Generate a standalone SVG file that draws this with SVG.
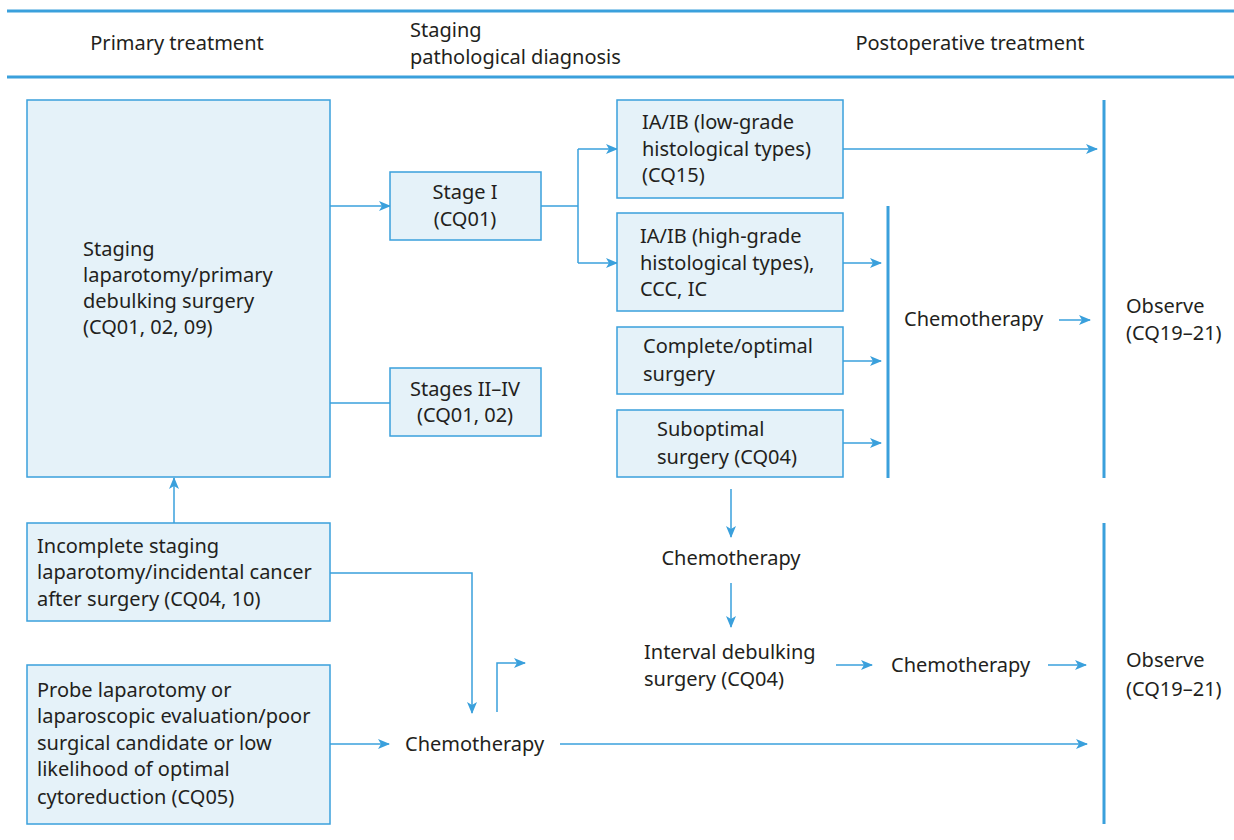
<svg xmlns="http://www.w3.org/2000/svg" width="1234" height="840" viewBox="0 0 1234 840">
<style>
.t{font-family:"Noto Sans","Liberation Sans",sans-serif;font-size:20px;fill:#231f20}
.c{text-anchor:middle}
.box{fill:#e5f2f9;stroke:#3aa0dc;stroke-width:1.5}
.ln{fill:none;stroke:#3aa0dc;stroke-width:1.5}
.ar{fill:none;stroke:#3aa0dc;stroke-width:1.5;marker-end:url(#ah)}
.bar{stroke:#3aa0dc;stroke-width:3}
</style>
<defs>
<marker id="ah" viewBox="0 0 12 10" refX="11" refY="5" markerWidth="12" markerHeight="10" markerUnits="userSpaceOnUse" orient="auto">
<path d="M0,0 L12,5 L0,10 L3,5 z" fill="#3aa0dc"/>
</marker>
</defs>
<rect width="1234" height="840" fill="#ffffff"/>
<g id="header">
<line class="bar" x1="7" y1="11" x2="1234" y2="11"/>
<line class="bar" x1="7" y1="77" x2="1234" y2="77"/>
<text class="t c" x="177" y="50">Primary treatment</text>
<text class="t" x="410" y="37">Staging</text>
<text class="t" x="410" y="64">pathological diagnosis</text>
<text class="t c" x="970" y="50">Postoperative treatment</text>
</g>
<g id="connectors">
<line class="ar" x1="330" y1="206" x2="390" y2="206"/>
<line class="ln" x1="330" y1="403" x2="390" y2="403"/>
<polyline class="ln" points="541,206 578,206"/>
<line class="ln" x1="578" y1="149" x2="578" y2="263"/>
<line class="ar" x1="578" y1="149" x2="617" y2="149"/>
<line class="ar" x1="578" y1="263" x2="617" y2="263"/>
<line class="ar" x1="843" y1="149" x2="1097" y2="149"/>
<line class="ar" x1="843" y1="263" x2="881" y2="263"/>
<line class="ar" x1="843" y1="361" x2="881" y2="361"/>
<line class="ar" x1="843" y1="443" x2="881" y2="443"/>
<line class="bar" x1="888" y1="206" x2="888" y2="478"/>
<line class="bar" x1="1104" y1="100" x2="1104" y2="478"/>
<line class="ar" x1="1059" y1="320" x2="1090" y2="320"/>
<line class="ar" x1="174" y1="523" x2="174" y2="478"/>
<polyline class="ar" points="330,573 472,573 472,713"/>
<polyline class="ar" points="497,712 497,663 525,663"/>
<line class="ar" x1="330" y1="744" x2="389" y2="744"/>
<line class="ar" x1="560" y1="744" x2="1087" y2="744"/>
<line class="ar" x1="731" y1="489" x2="731" y2="537"/>
<line class="ar" x1="731" y1="583" x2="731" y2="627"/>
<line class="ar" x1="836" y1="665" x2="872" y2="665"/>
<line class="ar" x1="1048" y1="665" x2="1086" y2="665"/>
<line class="bar" x1="1104" y1="523" x2="1104" y2="824"/>
</g>
<g id="n-staging-lap">
<rect class="box" x="27" y="100" width="303" height="377"/>
<text class="t" x="83" y="256">Staging</text>
<text class="t" x="83" y="282">laparotomy/primary</text>
<text class="t" x="83" y="308">debulking surgery</text>
<text class="t" x="83" y="334">(CQ01, 02, 09)</text>
</g>
<g id="n-stage1">
<rect class="box" x="390" y="172" width="151" height="68"/>
<text class="t c" x="465" y="199">Stage I</text>
<text class="t c" x="465" y="226">(CQ01)</text>
</g>
<g id="n-stage2-4">
<rect class="box" x="390" y="368" width="151" height="68"/>
<text class="t c" x="465" y="396">Stages II–IV</text>
<text class="t c" x="465" y="422">(CQ01, 02)</text>
</g>
<g id="n-low">
<rect class="box" x="617" y="100" width="226" height="98"/>
<text class="t" x="642" y="129">IA/IB (low-grade</text>
<text class="t" x="642" y="156">histological types)</text>
<text class="t" x="642" y="182">(CQ15)</text>
</g>
<g id="n-high">
<rect class="box" x="617" y="213" width="226" height="98"/>
<text class="t" x="640" y="243">IA/IB (high-grade</text>
<text class="t" x="640" y="270">histological types),</text>
<text class="t" x="640" y="296">CCC, IC</text>
</g>
<g id="n-complete">
<rect class="box" x="617" y="327" width="226" height="67"/>
<text class="t" x="643" y="353">Complete/optimal</text>
<text class="t" x="643" y="381">surgery</text>
</g>
<g id="n-suboptimal">
<rect class="box" x="617" y="410" width="226" height="67"/>
<text class="t" x="657" y="436">Suboptimal</text>
<text class="t" x="657" y="464">surgery (CQ04)</text>
</g>
<g id="n-chemo1">
<text class="t" x="904" y="326">Chemotherapy</text>
</g>
<g id="n-observe1">
<text class="t" x="1126" y="313">Observe</text>
<text class="t" x="1126" y="340">(CQ19–21)</text>
</g>
<g id="n-incomplete">
<rect class="box" x="27" y="523" width="303" height="98"/>
<text class="t" x="37" y="553">Incomplete staging</text>
<text class="t" x="37" y="579">laparotomy/incidental cancer</text>
<text class="t" x="37" y="606">after surgery (CQ04, 10)</text>
</g>
<g id="n-probe">
<rect class="box" x="27" y="665" width="303" height="159"/>
<text class="t" x="37" y="697">Probe laparotomy or</text>
<text class="t" x="37" y="723">laparoscopic evaluation/poor</text>
<text class="t" x="37" y="750">surgical candidate or low</text>
<text class="t" x="37" y="776">likelihood of optimal</text>
<text class="t" x="37" y="804">cytoreduction (CQ05)</text>
</g>
<g id="n-chemo2">
<text class="t c" x="731" y="565">Chemotherapy</text>
</g>
<g id="n-interval">
<text class="t" x="644" y="659">Interval debulking</text>
<text class="t" x="644" y="686">surgery (CQ04)</text>
</g>
<g id="n-chemo3">
<text class="t" x="891" y="672">Chemotherapy</text>
</g>
<g id="n-chemo4">
<text class="t" x="405" y="751">Chemotherapy</text>
</g>
<g id="n-observe2">
<text class="t" x="1126" y="667">Observe</text>
<text class="t" x="1126" y="696">(CQ19–21)</text>
</g>
</svg>
